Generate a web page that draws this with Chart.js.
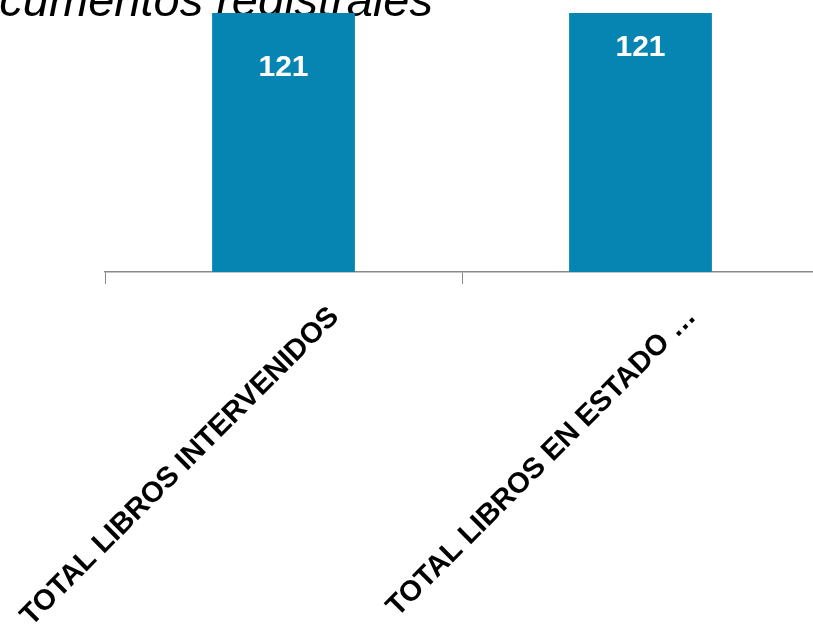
<!DOCTYPE html>
<html>
<head>
<meta charset="utf-8">
<script src="https://cdn.jsdelivr.net/npm/chart.js@4.4.1/dist/chart.umd.min.js"></script>
<style>
  html, body { margin: 0; padding: 0; background: #ffffff; overflow: hidden; }
  #wrap { position: absolute; left: 0; top: 0; width: 820px; height: 625px; }
  canvas { display: block; }
</style>
</head>
<body>
<div id="wrap"><canvas id="c" width="820" height="625" style="width:820px;height:625px"></canvas></div>
<script>
// ---- data ----
const categories = ["TOTAL LIBROS INTERVENIDOS", "TOTAL LIBROS EN ESTADO \u2026"];
const seriesValues = [121, 121];
const titleText = "cumentos registrales";

// ---- style / placement (not data) ----
const barColor = "#0685b3";
const axisColor = "#898989";
const valueLabelDrop = [55, 34.5];

const titlePlugin = {
  id: "cutTitle",
  beforeDatasetsDraw(chart) {
    const ctx = chart.ctx;
    ctx.save();
    ctx.font = "italic 47px 'Liberation Sans', Arial, sans-serif";
    ctx.fillStyle = "#000000";
    ctx.textAlign = "right";
    ctx.textBaseline = "alphabetic";
    ctx.fillText(titleText, 433, 16);
    ctx.restore();
  }
};

const valueLabels = {
  id: "valueLabels",
  afterDatasetsDraw(chart) {
    const ctx = chart.ctx;
    const meta = chart.getDatasetMeta(0);
    ctx.save();
    ctx.font = "bold 30px 'Liberation Sans', Arial, sans-serif";
    ctx.fillStyle = "#ffffff";
    ctx.textAlign = "center";
    ctx.textBaseline = "middle";
    meta.data.forEach((bar, i) => {
      const v = chart.data.datasets[0].data[i];
      ctx.fillText(String(v), bar.x, bar.y + valueLabelDrop[i]);
    });
    ctx.restore();
  }
};

new Chart(document.getElementById("c"), {
  type: "bar",
  data: {
    labels: categories,
    datasets: [{
      data: seriesValues,
      backgroundColor: barColor,
      borderWidth: 0,
      barPercentage: 0.4,
      categoryPercentage: 1.0
    }]
  },
  options: {
    responsive: false,
    animation: false,
    devicePixelRatio: 1,
    layout: { padding: { top: 13, left: 105, right: 1, bottom: 0 } },
    plugins: {
      legend: { display: false },
      title: { display: false },
      tooltip: { enabled: false }
    },
    scales: {
      x: {
        offset: true,
        grid: {
          display: true,
          offset: true,
          drawOnChartArea: false,
          drawTicks: true,
          tickLength: 12,
          color: axisColor,
          lineWidth: 1
        },
        border: { display: true, color: axisColor, width: 1.5 },
        ticks: {
          autoSkip: false,
          minRotation: 45,
          maxRotation: 45,
          labelOffset: 51,
          padding: 16,
          color: "#000000",
          font: { family: "'Liberation Sans', Arial, sans-serif", size: 29, weight: "bold" }
        },
        afterFit(scale) {
          scale.height = 353;
          scale.paddingLeft = 0;
          scale.paddingRight = 0;
        }
      },
      y: {
        display: false,
        min: 0,
        max: 121
      }
    }
  },
  plugins: [titlePlugin, valueLabels]
});
</script>
</body>
</html>
